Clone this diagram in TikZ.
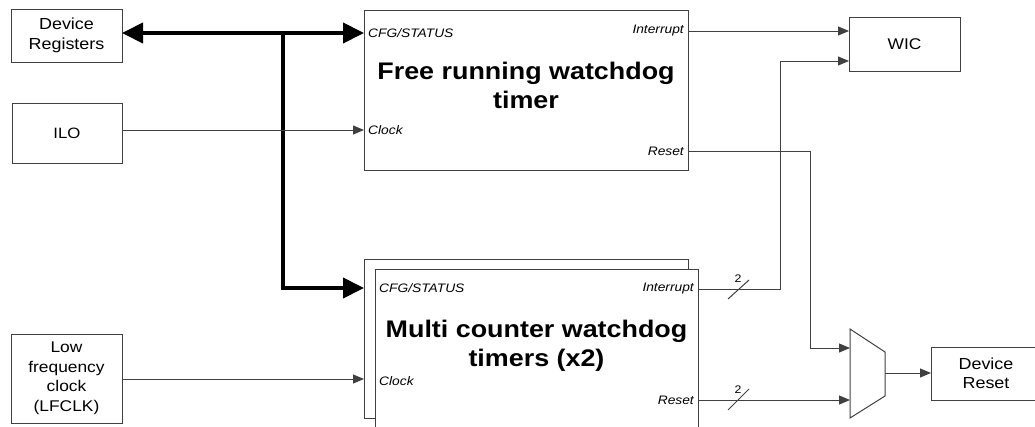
\documentclass[tikz,border=0pt]{standalone}
\usepackage{fontspec}
\setmainfont[FakeStretch=1.12]{Liberation Sans}
\usetikzlibrary{arrows.meta}
\definecolor{ln}{HTML}{404040}
\begin{document}
\begin{tikzpicture}[x=1pt,y=-1pt,
 box/.style={draw=ln, line width=1pt, inner sep=0pt, outer sep=0pt, align=center, font=\fontsize{16}{19.5}\selectfont},
 port/.style={inner sep=0pt, font=\fontsize{12.3}{14}\selectfont\itshape},
 title/.style={inner sep=0pt, align=center, font=\fontsize{24}{29}\selectfont\bfseries},
 small/.style={inner sep=0pt, font=\fontsize{11}{12}\selectfont},
 wire/.style={draw=ln, line width=1pt, -{Triangle[length=11pt,width=9pt]}},
 plain/.style={draw=ln, line width=1pt},
 bus/.style={draw=black, line width=4pt},
 ]
\useasboundingbox (0,0) rectangle (1035,426);
\clip (0,0) rectangle (1035,426);

% left boxes
\node[box, minimum width=111pt, minimum height=53pt] (devreg) at (66.5,35.5) {Device\\Registers};
\node[box, minimum width=110pt, minimum height=60pt, font=\fontsize{15}{18}\selectfont] (ilo) at (67,133) {ILO};
\node[box, minimum width=111pt, minimum height=89pt, font=\fontsize{15.5}{19.5}\selectfont] (lfclk) at (66.5,378.5) {Low\\frequency\\clock\\(LFCLK)};

% free running watchdog
\node[box, minimum width=324pt, minimum height=160pt] (frwd) at (526,90) {};
\node[title] (frtitle) at (526,85) {Free running watchdog\\timer};
\node[port, anchor=west] (frcfg) at (368,33) {CFG/STATUS};
\node[port, anchor=west] (frclk) at (368,130) {Clock};
\node[port, anchor=east] (frint) at (684,31) {Interrupt};
\node[port, anchor=east] (frrst) at (684,151) {Reset};

% multi counter watchdog
\node[box, minimum width=324pt, minimum height=159pt] (mcback) at (526,338.5) {};
\node[box, fill=white, minimum width=323pt, minimum height=167pt] (mcfront) at (536.5,352.5) {};
\node[title] (mctitle) at (536.5,346) {Multi counter watchdog\\timers (x2)};
\node[port, anchor=west] (mccfg) at (379,288) {CFG/STATUS};
\node[port, anchor=west] (mcclk) at (379,381) {Clock};
\node[port, anchor=east] (mcint) at (694,289) {Interrupt};
\node[port, anchor=east] (mcrst) at (694,400) {Reset};

% right side
\node[box, minimum width=111pt, minimum height=54pt, font=\fontsize{15.5}{19.5}\selectfont] (wic) at (904.5,44) {WIC};
\node[box, minimum width=110pt, minimum height=53pt] (devreset) at (986,373.5) {Device\\Reset};
\draw[plain] (850,329) -- (885,352) -- (885,396) -- (850,418) -- cycle;
\coordinate (muxA) at (850,348);
\coordinate (muxB) at (850,400);
\coordinate (muxO) at (885,373);

% bus
\coordinate (busT) at (283,33);
\coordinate (busB) at (283,288);
\draw[bus, {Triangle[length=21pt,width=20pt]}-{Triangle[length=21pt,width=20pt]}] (devreg.east |- busT) -- (frwd.west |- busT);
\draw[bus, -{Triangle[length=21pt,width=20pt]}] (busT) -- (busB) -- (mcback.west |- busB);

% clocks
\draw[wire] (ilo.east |- frclk) -- (frwd.west |- frclk);
\draw[wire] (lfclk.east |- 0,379) -- (mcback.west |- 0,379);

% interrupts
\coordinate (jA) at (780,289);
\coordinate (wicB) at (849,61);
\draw[wire] (frwd.east |- frint) -- (wic.west |- frint);
\draw[wire] (mcfront.east |- mcint) -- (jA) |- (wicB);

% resets
\coordinate (jB) at (810,151);
\draw[wire] (frwd.east |- frrst) -- (jB) |- (muxA);
\draw[wire] (mcfront.east |- mcrst) -- (muxB);
\draw[wire] (muxO) -- (devreset.west |- muxO);

% bus width markers
\draw[plain] (728,299) -- (749,280);
\node[small] (w1) at (738,279) {2};
\draw[plain] (728,410) -- (749,389);
\node[small] (w2) at (738,390) {2};
\end{tikzpicture}
\end{document}
